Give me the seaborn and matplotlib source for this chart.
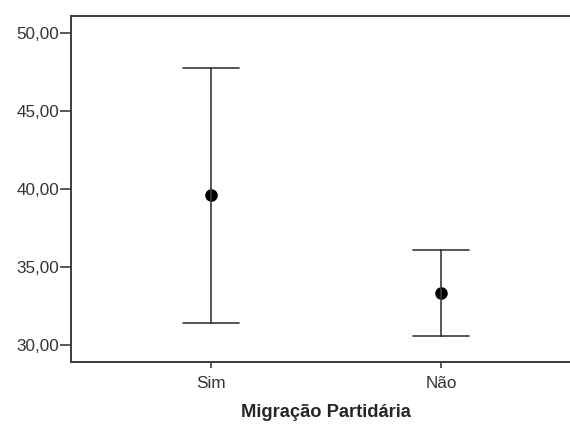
import seaborn as sns
import matplotlib.pyplot as plt
import pandas as pd

# Summary values (lower limit, mean, upper limit)
grupos = ["Sim", "Não"]
limite_inferior = [31.41, 30.58]
media = [39.62, 33.33]
limite_superior = [47.76, 36.09]

# Long table: median = mean, min/max = interval ends
df = pd.DataFrame({
    "grupo": [g for g in grupos for _ in range(3)],
    "valor": [v for trio in zip(limite_inferior, media, limite_superior) for v in trio],
})

sns.set_theme(style="white")
plt.rcParams["font.family"] = ["Liberation Sans", "DejaVu Sans"]

fig = plt.figure(figsize=(5.7, 4.34), dpi=100)
ax = fig.add_axes([71 / 570, 1 - 362 / 434, (581 - 71) / 570, (362 - 16) / 434])

sns.pointplot(
    data=df, x="grupo", y="valor", order=grupos,
    estimator="median", errorbar=("pi", 100),
    capsize=0.245, linestyle="none", color="black",
    marker="o", markersize=7,
    err_kws={"color": "#3a3a3a", "linewidth": 1.2},
    ax=ax,
)

ax.set_xlim(-0.609, 1.609)
ax.set_ylim(28.91, 51.09)
ax.set_yticks([30, 35, 40, 45, 50])
ax.set_yticklabels(["30,00", "35,00", "40,00", "45,00", "50,00"])

for side in ["left", "top", "bottom"]:
    ax.spines[side].set_color("#3c3c3c")
    ax.spines[side].set_linewidth(1.4)
ax.spines["right"].set_visible(False)

ax.tick_params(axis="both", direction="out", width=1.2, color="#3c3c3c",
               labelsize=12.3, labelcolor="#333333", left=True, bottom=True)
ax.tick_params(axis="y", length=8, pad=0.5)
ax.tick_params(axis="x", length=4.5, pad=5.5)

ax.set_ylabel("")
ax.set_xlabel("Migração Partidária", fontsize=13.2, fontweight="bold", labelpad=9.5)

fig.savefig("out.png", dpi=100)
